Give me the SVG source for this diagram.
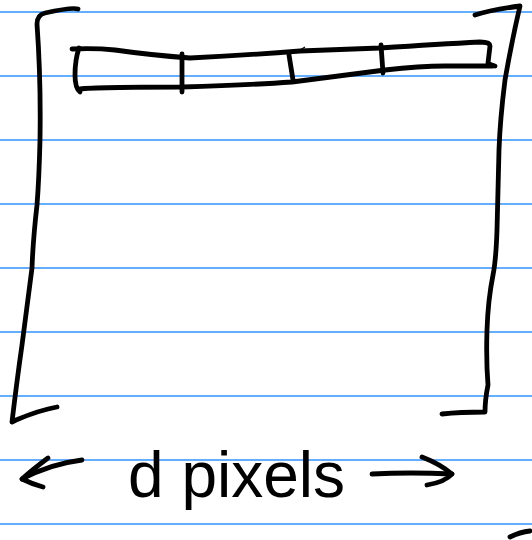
<svg xmlns="http://www.w3.org/2000/svg" width="532" height="540" viewBox="0 0 532 540">
<style>
.rule{stroke:#2f93ff;stroke-width:1.6;fill:none}
.ink{stroke:#000;stroke-width:4.8;fill:none;stroke-linecap:round;stroke-linejoin:round}
.label{font-family:"Liberation Sans","DejaVu Sans",sans-serif;font-size:64px;fill:#000}
</style>
<rect width="532" height="540" fill="#fff"/>
<g id="paper-lines">
<line class="rule" x1="0" y1="12" x2="532" y2="12"/>
<line class="rule" x1="0" y1="76" x2="532" y2="76"/>
<line class="rule" x1="0" y1="140" x2="532" y2="140"/>
<line class="rule" x1="0" y1="204" x2="532" y2="204"/>
<line class="rule" x1="0" y1="268" x2="532" y2="268"/>
<line class="rule" x1="0" y1="332" x2="532" y2="332"/>
<line class="rule" x1="0" y1="396" x2="532" y2="396"/>
<line class="rule" x1="0" y1="460" x2="532" y2="460"/>
<line class="rule" x1="0" y1="524" x2="532" y2="524"/>
</g>
<g id="window-frame">
<path class="ink" d="M78,9 Q72,7 45,13 Q37,15 37,24 Q41,80 40,140 Q39,180 37,205 Q33,240 32,268 Q28,300 22,345 Q17,380 12,422 L16,420 Q40,410 57,407"/>
<path class="ink" d="M475,15 Q490,10 520,6 Q512,40 505,80 Q500,120 499,150 Q498,190 497,230 Q496,260 493,275 Q488,300 487,330 Q486,360 488,385 Q485,400 485,412 Q460,412 442,414"/>
</g>
<g id="toolbar">
<path class="ink" d="M72,49 Q95,48 115,50 Q150,55 190,58 Q250,55 300,51 L380,48 Q440,44 480,42 Q490,42 490,46 L488,63 Q490,65 495,66"/>
<path class="ink" d="M79,48 Q75,60 75,75 Q75,88 80,92"/>
<path class="ink" d="M80,89 Q95,87 182,87 Q250,85 292,82 Q340,76 385,70 Q420,66 445,66 L493,66"/>
<path class="ink" d="M182,54 L182,92"/>
<path class="ink" d="M289,55 L293,80"/>
<path class="ink" d="M381,45 L383,73"/>
<path d="M300,50 L305,47" stroke="#000" stroke-width="1.2" fill="none"/>
</g>
<g id="dimension">
<path class="ink" d="M82,460 Q50,464 22,479"/>
<path class="ink" d="M48,458 Q32,470 22,479 Q32,484 43,487"/>
<path class="ink" d="M372,474 Q410,472 452,474"/>
<path class="ink" d="M422,457 Q440,464 452,474 Q445,482 427,485"/>
<text class="label" x="128" y="497">d pixels</text>
</g>
<path class="ink" d="M510,537 Q520,532 530,531"/>
</svg>
